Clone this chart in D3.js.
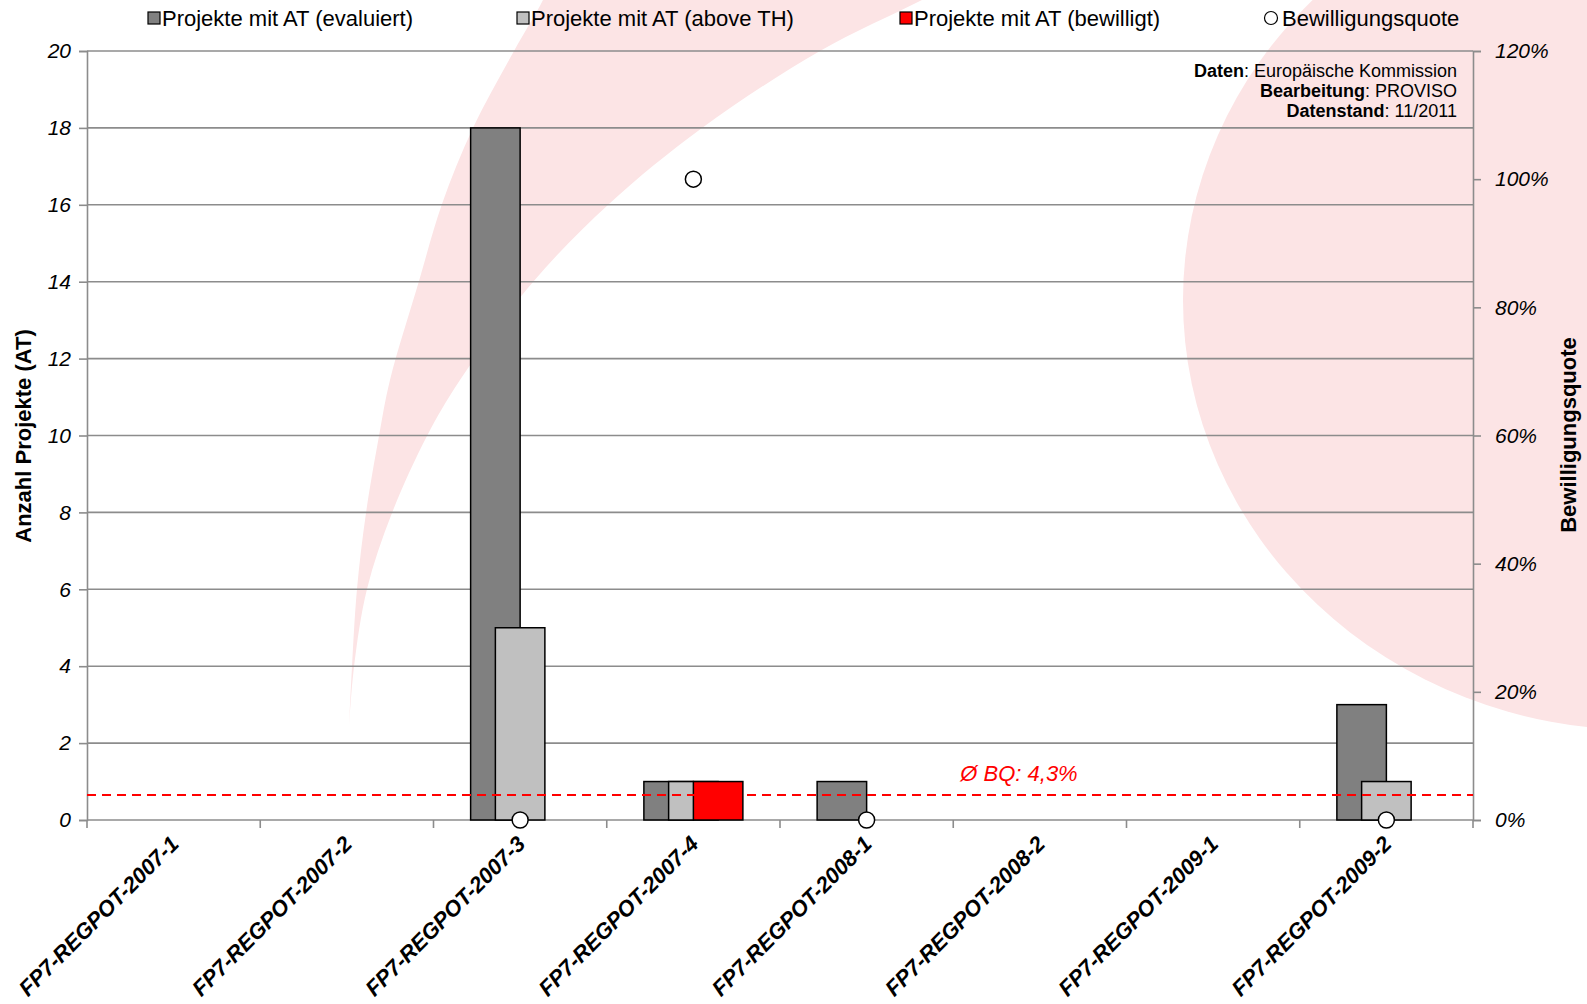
<!DOCTYPE html>
<html>
<head>
<meta charset="utf-8">
<script src="https://cdn.jsdelivr.net/npm/d3@7"></script>
<style>
  html, body { margin: 0; padding: 0; background: #fff; }
  svg { display: block; font-family: "Liberation Sans", Arial, sans-serif; }
</style>
</head>
<body>
<svg id="chart" width="1587" height="1004"></svg>
<script>
// ---- data ----
const categories = ["FP7-REGPOT-2007-1","FP7-REGPOT-2007-2","FP7-REGPOT-2007-3","FP7-REGPOT-2007-4",
                    "FP7-REGPOT-2008-1","FP7-REGPOT-2008-2","FP7-REGPOT-2009-1","FP7-REGPOT-2009-2"];
const evaluiert = [0, 0, 18, 1, 1, 0, 0, 3];
const aboveTH   = [0, 0, 5, 1, 0, 0, 0, 1];
const bewilligt = [0, 0, 0, 1, 0, 0, 0, 0];
const quote     = [null, null, 0, 100, 0, null, null, 0]; // percent
const avgQuoteLabel = "4,3";   // value printed in the label
const avgLineLevel  = 3.9;     // level of the dashed line (percent)
const leftTicks  = [0, 2, 4, 6, 8, 10, 12, 14, 16, 18, 20];
const rightTicks = [0, 20, 40, 60, 80, 100, 120];
const seriesNames = ["Projekte mit AT (evaluiert)", "Projekte mit AT (above TH)", "Projekte mit AT (bewilligt)"];
const seriesColors = ["#808080", "#c0c0c0", "#ff0000"];
const quoteName = "Bewilligungsquote";

// ---- layout ----
const plot = {left: 87, right: 1473, top: 51, bottom: 820};
const svg = d3.select("#chart");
const pink = "#fce4e5";

// background decoration (pink swoosh + ellipse)
const deco = svg.append("g");
const swooshOuter = [[349,727],[352,667],[357,589],[366,513],[379,436],[390,380],[419,281],[442,204],[473,128],[514,51],[543,0],[556,-30]];
const swooshInner = [[990,-35],[922,0],[820,51],[702,128],[609,204],[533,282],[460,380],[427,436],[392,513],[367,589],[354,667],[349,727]];
const lineGen = d3.line().curve(d3.curveCatmullRom.alpha(0.5));
deco.append("path")
  .attr("d", lineGen(swooshOuter) + "L" + lineGen(swooshInner).slice(1) + "Z")
  .attr("fill", pink);
deco.append("ellipse").attr("cx", 1640).attr("cy", 300).attr("rx", 457).attr("ry", 430).attr("fill", pink);

// scales
const x = d3.scaleBand().domain(categories).range([plot.left, plot.right]).padding(0);
const yL = d3.scaleLinear().domain([0, 20]).range([plot.bottom, plot.top]);
const yR = d3.scaleLinear().domain([0, 120]).range([plot.bottom, plot.top]);
const gridColor = "#8c8c8c";

// gridlines
svg.append("g").selectAll("line").data(leftTicks.filter(d => d > 0)).join("line")
  .attr("x1", plot.left).attr("x2", plot.right)
  .attr("y1", d => yL(d)).attr("y2", d => yL(d))
  .attr("stroke", gridColor).attr("stroke-width", 1.6);

// left axis
const axL = svg.append("g").attr("transform", `translate(${plot.left},0)`)
  .call(d3.axisLeft(yL).tickValues(leftTicks).tickSize(8).tickPadding(8).tickFormat(d3.format("d")));
axL.select(".domain").attr("stroke", gridColor).attr("stroke-width", 1.6);
axL.selectAll(".tick line").attr("stroke", gridColor).attr("stroke-width", 1.6);
axL.selectAll(".tick text").attr("font-size", 21).attr("font-style", "italic").attr("fill", "#000")
  .attr("font-family", "Liberation Sans, Arial, sans-serif");

// right axis
const axR = svg.append("g").attr("transform", `translate(${plot.right},0)`)
  .call(d3.axisRight(yR).tickValues(rightTicks).tickSize(8).tickPadding(14).tickFormat(d => d + "%"));
axR.select(".domain").attr("stroke", gridColor).attr("stroke-width", 1.6);
axR.selectAll(".tick line").attr("stroke", gridColor).attr("stroke-width", 1.6);
axR.selectAll(".tick text").attr("font-size", 21).attr("font-style", "italic").attr("fill", "#000")
  .attr("font-family", "Liberation Sans, Arial, sans-serif");

// bottom axis with ticks at category boundaries
const bounds = categories.map(c => x(c)).concat([plot.right]);
const axB = svg.append("g");
axB.append("line").attr("x1", plot.left).attr("x2", plot.right).attr("y1", plot.bottom).attr("y2", plot.bottom)
  .attr("stroke", gridColor).attr("stroke-width", 1.6);
axB.selectAll("line.tk").data(bounds).join("line").attr("class", "tk")
  .attr("x1", d => d).attr("x2", d => d).attr("y1", plot.bottom).attr("y2", plot.bottom + 8)
  .attr("stroke", gridColor).attr("stroke-width", 1.6);
axB.selectAll("text").data(categories).join("text")
  .attr("transform", d => `translate(${x(d) + x.bandwidth() / 2 + 1},${plot.bottom + 20}) rotate(-45)`)
  .attr("text-anchor", "end").attr("dy", "0.35em")
  .attr("font-size", 22).attr("font-weight", "bold").attr("font-style", "italic").text(d => d);

// bars
const bw = x.bandwidth() * 2 / 7;
const seriesData = [evaluiert, aboveTH, bewilligt];
seriesData.forEach((vals, si) => {
  svg.append("g").selectAll("rect").data(categories.map((c, i) => ({c, v: vals[i]})).filter(d => d.v > 0))
    .join("rect")
    .attr("x", d => x(d.c) + x.bandwidth() / 2 - bw + si * bw / 2)
    .attr("width", bw)
    .attr("y", d => yL(d.v))
    .attr("height", d => yL(0) - yL(d.v))
    .attr("fill", seriesColors[si]).attr("stroke", "#000").attr("stroke-width", 1.5);
});

// average line
svg.append("line").attr("x1", plot.left).attr("x2", plot.right)
  .attr("y1", yR(avgLineLevel)).attr("y2", yR(avgLineLevel))
  .attr("stroke", "#ff0000").attr("stroke-width", 2).attr("stroke-dasharray", "9,6");
svg.append("text").attr("x", 1019).attr("y", yR(avgLineLevel) - 14)
  .attr("text-anchor", "middle").attr("font-size", 22).attr("font-style", "italic").attr("fill", "#ff0000")
  .text("Ø BQ: " + avgQuoteLabel + "%");

// quote markers
svg.append("g").selectAll("circle")
  .data(categories.map((c, i) => ({c, v: quote[i]})).filter(d => d.v !== null))
  .join("circle")
  .attr("cx", d => x(d.c) + x.bandwidth() / 2).attr("cy", d => yR(d.v)).attr("r", 8)
  .attr("fill", "#fff").attr("stroke", "#000").attr("stroke-width", 1.5);

// axis titles
svg.append("text").attr("transform", `translate(31,436) rotate(-90)`).attr("text-anchor", "middle")
  .attr("font-size", 22).attr("font-weight", "bold").text("Anzahl Projekte (AT)");
svg.append("text").attr("transform", `translate(1576,435) rotate(-90)`).attr("text-anchor", "middle")
  .attr("font-size", 22).attr("font-weight", "bold").text("Bewilligungsquote");

// source annotation
const notes = [["Daten", "Europäische Kommission"], ["Bearbeitung", "PROVISO"], ["Datenstand", "11/2011"]];
notes.forEach((n, i) => {
  const t = svg.append("text").attr("x", 1457).attr("y", 77 + i * 20).attr("text-anchor", "end").attr("font-size", 18);
  t.append("tspan").attr("font-weight", "bold").text(n[0]);
  t.append("tspan").text(": " + n[1]);
});

// legend
const legendX = [148, 517, 900];
seriesNames.forEach((name, i) => {
  svg.append("rect").attr("x", legendX[i]).attr("y", 12).attr("width", 12).attr("height", 12)
    .attr("fill", seriesColors[i]).attr("stroke", "#000").attr("stroke-width", 1.2);
  svg.append("text").attr("x", legendX[i] + 14).attr("y", 18).attr("dy", "0.35em").attr("font-size", 22).text(name);
});
svg.append("circle").attr("cx", 1271).attr("cy", 18).attr("r", 6.5).attr("fill", "#fff").attr("stroke", "#000").attr("stroke-width", 1.2);
svg.append("text").attr("x", 1282).attr("y", 18).attr("dy", "0.35em").attr("font-size", 22).text(quoteName);
</script>
</body>
</html>
